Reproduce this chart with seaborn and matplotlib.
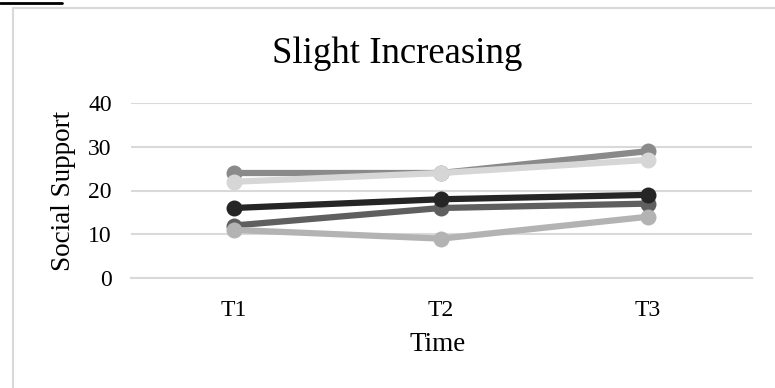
import matplotlib
matplotlib.use("Agg")
import matplotlib.pyplot as plt
import seaborn as sns
import pandas as pd
from matplotlib.lines import Line2D

times = ["T1", "T2", "T3"]
series_names = ["S1", "S2", "S3", "S4", "S5"]
s1 = [24, 24, 29]
s2 = [12, 16, 17]
s3 = [11, 9, 14]
s4 = [16, 18, 19]
s5 = [22, 24, 27]
colors = ["#8a8a8a", "#5f5f5f", "#b3b3b3", "#252525", "#d6d6d6"]
y_ticks = [0, 10, 20, 30, 40]

rows = []
for name, vals in zip(series_names, [s1, s2, s3, s4, s5]):
    for t, v in zip(times, vals):
        rows.append({"Time": t, "Value": v, "Series": name})
df = pd.DataFrame(rows)
df["x"] = df["Time"].map({t: i for i, t in enumerate(times)})

sns.set_theme(style="white")
plt.rcParams["font.family"] = ["Liberation Serif", "DejaVu Serif"]

W, H = 775, 388
fig = plt.figure(figsize=(W / 100, H / 100), dpi=100)
ax = fig.add_axes([130.5 / W, (H - 278) / H, 621 / W, 175 / H])

sns.lineplot(data=df, x="x", y="Value", hue="Series", hue_order=series_names,
             palette=colors, marker="o", markersize=11.5, markeredgewidth=0,
             linewidth=4.5, legend=False, ax=ax, sort=False)

ax.set_xlim(-0.5, 2.5)
ax.set_ylim(0, 40)
ax.set_yticks(y_ticks)
ax.set_xticks(range(len(times)))
ax.set_xticklabels(times)
ax.grid(axis="y", color="#d9d9d9", linewidth=1.5)
ax.grid(axis="x", visible=False)
ax.set_axisbelow(True)
for s in ["top", "right", "left"]:
    ax.spines[s].set_visible(False)
ax.spines["bottom"].set_color("#d9d9d9")
ax.spines["bottom"].set_linewidth(1.5)
ax.tick_params(axis="both", length=0, labelsize=17, colors="#000000")
ax.tick_params(axis="y", pad=13.5)
ax.tick_params(axis="x", pad=15.5)
ax.set_xlabel("Time", fontsize=19.5, color="#000000")
ax.set_ylabel("Social Support", fontsize=19.5, color="#000000")
ax.yaxis.set_label_coords((63 - 130.5) / 621, (278 - 191) / 175)
ax.xaxis.set_label_coords((438 - 130.5) / 621, (278 - 351) / 175)
ax.xaxis.label.set_va("baseline")
ax.yaxis.label.set_va("center")

fig.text(397 / W, 1 - 63 / H, "Slight Increasing", fontsize=26.5, ha="center", va="baseline",
         color="#000000")

# chart frame
fig.add_artist(Line2D([13.5 / W, 13.5 / W], [0, 1 - 7.5 / H], color="#d9d9d9", linewidth=1.5,
                      transform=fig.transFigure))
fig.add_artist(Line2D([13.5 / W, 1], [1 - 7.5 / H, 1 - 7.5 / H], color="#d9d9d9", linewidth=1.5,
                      transform=fig.transFigure))
fig.add_artist(Line2D([0, 62 / W], [1 - 3 / H, 1 - 3 / H], color="#000000", linewidth=2,
                      transform=fig.transFigure))

fig.savefig("out.png", dpi=100)
